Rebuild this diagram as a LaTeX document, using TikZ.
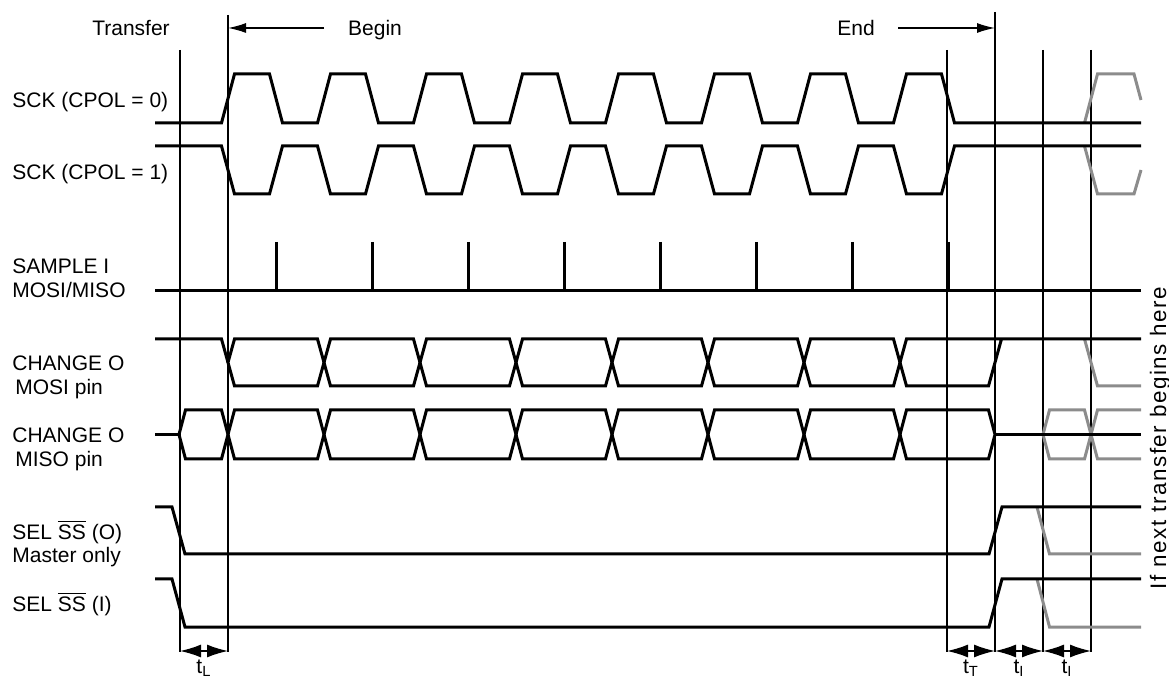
\documentclass[tikz,border=0pt]{standalone}
\usepackage{fontspec}
\setmainfont{Liberation Sans}
\usetikzlibrary{arrows.meta}
\definecolor{ghostgray}{rgb}{0.55,0.55,0.55}
\newcommand\lblfont{\fontsize{10.5}{12.6}\selectfont}
\newcommand\sidefont{\fontsize{11.2}{13.4}\selectfont\addfontfeature{LetterSpace=7}}
\begin{document}
\begin{tikzpicture}[x=0.5pt,y=-0.5pt,
  sig/.style={line width=1.5pt},
  ghost/.style={line width=1.5pt,draw=ghostgray},
  vline/.style={line width=0.7pt},
  dimarrow/.style={line width=0.7pt,{Latex[length=10.5pt,width=6.5pt]}-{Latex[length=10.5pt,width=6.5pt]}},
  toparrow/.style={line width=0.7pt,-{Latex[length=9pt,width=5pt]}},
  lbl/.style={anchor=base west,inner sep=0pt,font=\lblfont},
  clbl/.style={anchor=base,inner sep=0pt,font=\lblfont},
  ]
\useasboundingbox (0,0) rectangle (1169,679);

% vertical reference lines
\coordinate (v1t) at (180,50);   \coordinate (v1b) at (180,652);
\coordinate (v2t) at (228,15);   \coordinate (v2b) at (228,652);
\coordinate (v3t) at (947,50);   \coordinate (v3b) at (947,652);
\coordinate (v4t) at (995,12);   \coordinate (v4b) at (995,652);
\coordinate (v5t) at (1043,50);  \coordinate (v5b) at (1043,652);
\coordinate (v6t) at (1091,50);  \coordinate (v6b) at (1091,652);
\foreach \i in {1,...,6} \draw[vline] (v\i t) -- (v\i b);

% dimension arrows
\coordinate (d1) at (180,651); \coordinate (d2) at (228,651);
\coordinate (d3) at (947,651); \coordinate (d4) at (995,651);
\coordinate (d5) at (1043,651); \coordinate (d6) at (1091,651);
\draw[dimarrow] (d1) -- (d2);
\draw[dimarrow] (d3) -- (d4);
\draw[dimarrow] (d4) -- (d5);
\draw[dimarrow] (d5) -- (d6);
\node[clbl] (tl) at (204,673) {t\textsubscript{L}};
\node[clbl] (tt) at (971,673) {t\textsubscript{T}};
\node[clbl] (ti1) at (1019,673) {t\textsubscript{I}};
\node[clbl] (ti2) at (1067,673) {t\textsubscript{I}};

% top labels and arrows
\node[clbl] (ltransfer) at (131,36) {Transfer};
\node[clbl] (lbegin) at (375,36) {Begin};
\node[clbl] (lend) at (856,36) {End};
\coordinate (ba) at (324,28); \coordinate (bb) at (228,28);
\coordinate (ea) at (898,28); \coordinate (eb) at (995,28);
\draw[toparrow] (ba) -- (bb);
\draw[toparrow] (ea) -- (eb);

% left labels
\node[lbl] (lsck0) at (12,108) {SCK (CPOL = 0)};
\node[lbl] (lsck1) at (12,180) {SCK (CPOL = 1)};
\node[lbl] (lsamp) at (12,274) {SAMPLE I};
\node[lbl] (lsampb) at (12,298) {MOSI/MISO};
\node[lbl] (lch1) at (12,371) {CHANGE O};
\node[lbl] (lch1b) at (15,395) {MOSI pin};
\node[lbl] (lch2) at (12,443) {CHANGE O};
\node[lbl] (lch2b) at (15,467) {MISO pin};
\node[lbl] (lsel1) at (12,539) {SEL $\overline{\hbox{SS}}$ (O)};
\node[lbl] (lsel1b) at (12,563) {Master only};
\node[lbl] (lsel2) at (12,611) {SEL $\overline{\hbox{SS}}$ (I)};

% right rotated label
\node[anchor=base,inner sep=0pt,rotate=90,font=\sidefont] (lnext) at (1166,438) {If next transfer begins here};

% ghost (next transfer) signals
\draw[ghost] (1084.5,123) -- (1097.5,74) -- (1134,74) -- (1141,100);
\draw[ghost] (1084.5,146) -- (1097.5,194) -- (1134,194) -- (1141,170);
\draw[ghost] (1084.5,339) -- (1097.5,386) -- (1141,386);
\draw[ghost] (1043,434.5) -- (1049.5,410) -- (1084.5,410) -- (1091,434.5) -- (1084.5,459) -- (1049.5,459) -- cycle;
\draw[ghost] (1141,410) -- (1097.5,410) -- (1091,434.5) -- (1097.5,459) -- (1141,459);
\draw[ghost] (1037,507) -- (1049.5,554) -- (1141,554);
\draw[ghost] (1037,579) -- (1049.5,627) -- (1141,627);

% SCK CPOL=0
\draw[sig] (155,123) foreach \k in {0,...,7} { -- ({221.5+96*\k},123) -- ({234.5+96*\k},74) -- ({269.5+96*\k},74) -- ({282.5+96*\k},123) } -- (1141,123);
% SCK CPOL=1
\draw[sig] (155,146) foreach \k in {0,...,7} { -- ({221.5+96*\k},146) -- ({234.5+96*\k},194) -- ({269.5+96*\k},194) -- ({282.5+96*\k},146) } -- (1141,146);

% SAMPLE
\draw[sig] (155,291) -- (1141,291);
\foreach \k in {0,...,7} \draw[sig] ({276+96*\k},242) -- ({276+96*\k},291);

% MOSI
\draw[sig] (155,339) -- (221.5,339) -- (228,362.5);
\foreach \k in {0,...,6} \draw[sig] ({228+96*\k},362.5) -- ({234.5+96*\k},339) -- ({317.5+96*\k},339) -- ({324+96*\k},362.5) -- ({317.5+96*\k},386) -- ({234.5+96*\k},386) -- cycle;
\draw[sig] (1141,339) -- (906.5,339) -- (900,362.5) -- (906.5,386) -- (988.5,386) -- (1001.5,339);

% MISO
\draw[sig] (155,434.5) -- (179,434.5);
\draw[sig] (179,434.5) -- (185.5,410) -- (221.5,410) -- (228,434.5) -- (221.5,459) -- (185.5,459) -- cycle;
\foreach \k in {0,...,6} \draw[sig] ({228+96*\k},434.5) -- ({234.5+96*\k},410) -- ({317.5+96*\k},410) -- ({324+96*\k},434.5) -- ({317.5+96*\k},459) -- ({234.5+96*\k},459) -- cycle;
\draw[sig] (900,434.5) -- (906.5,410) -- (988.5,410) -- (995,434.5) -- (988.5,459) -- (906.5,459) -- cycle;
\draw[sig] (995,434.5) -- (1141,434.5);

% SEL SS (O)
\draw[sig] (155,507) -- (172,507) -- (185,554) -- (989,554) -- (1002,507) -- (1141,507);
% SEL SS (I)
\draw[sig] (155,579) -- (172,579) -- (185,627) -- (989,627) -- (1002,579) -- (1141,579);
\end{tikzpicture}
\end{document}
